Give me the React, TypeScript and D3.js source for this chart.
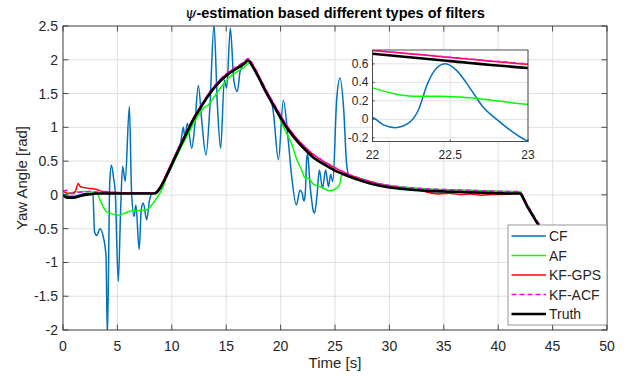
import React from "react";
import * as d3 from "d3";

type P = [number, number];

const X_TICKS = [0, 5, 10, 15, 20, 25, 30, 35, 40, 45, 50];
const Y_TICKS = [-2, -1.5, -1, -0.5, 0, 0.5, 1, 1.5, 2, 2.5];
const INSET_X_TICKS = [22, 22.5, 23];
const INSET_Y_TICKS = [-0.2, 0, 0.2, 0.4, 0.6];
const SERIES_NAMES = ["CF", "AF", "KF-GPS", "KF-ACF", "Truth"];

const CF: P[] = [
  [0, 0], [0.5, -0.02], [1, -0.02], [1.5, 0], [2, 0.02], [2.5, 0.02], [2.75, 0],
  [2.9, -0.55], [3.1, -0.6], [3.4, -0.5], [3.7, -0.62], [3.95, -0.9], [4.08, -2.1],
  [4.3, 0.2], [4.45, 0.44], [4.65, 0.25], [4.8, 0.05], [5.08, -1.28], [5.3, -0.2],
  [5.48, 0.42], [5.72, 0.2], [6.1, 1.31], [6.3, 0.05], [6.53, -0.32], [6.7, -0.15],
  [7.0, -0.81], [7.2, -0.2], [7.38, -0.12], [7.69, -0.37], [7.95, -0.08], [8.2, 0.02],
  [8.5, 0.03], [9, 0.12], [9.5, 0.3], [10, 0.45], [10.5, 0.63], [10.8, 0.75],
  [11.06, 1.0], [11.2, 0.85], [11.43, 1.06], [11.83, 0.69], [12.1, 1.0], [12.44, 1.62],
  [12.75, 1.1], [13.14, 0.59], [13.5, 1.3], [13.88, 2.52], [14.18, 1.36], [14.49, 0.69],
  [14.83, 1.7], [15.04, 1.58], [15.38, 2.47], [15.7, 1.7], [16.02, 1.53], [16.3, 1.85],
  [16.7, 1.95], [17, 1.99], [17.5, 1.88], [18, 1.73], [18.5, 1.57], [19.0, 1.42],
  [19.2, 1.36], [19.35, 1.2], [19.8, 0.52], [20.25, 1.4], [20.7, 0.81], [21.0, 0.3],
  [21.45, -0.15], [21.78, 0.07], [22.0, 0.02], [22.07, -0.06], [22.145, -0.09],
  [22.24, -0.03], [22.3, 0.12], [22.35, 0.37], [22.41, 0.55], [22.47, 0.6],
  [22.54, 0.53], [22.63, 0.33], [22.71, 0.135], [22.82, -0.03], [22.9, -0.135],
  [23.0, -0.235], [23.12, -0.27], [23.35, 0.0], [23.56, 0.37], [23.85, 0.1],
  [24.14, 0.37], [24.4, 0.12], [24.6, 0.3], [24.8, 0.2], [25.15, 1.4], [25.46, 1.73],
  [25.8, 1.26], [26.07, 0.45], [26.3, 0.28], [27, 0.235], [28, 0.185], [29, 0.145],
  [30, 0.115], [31, 0.095], [32, 0.08], [33, 0.07], [34, 0.06], [35, 0.055],
  [36, 0.05], [37, 0.045], [38, 0.04], [39, 0.035], [40, 0.03], [41, 0.025],
  [42, 0.025], [42.3, -0.04], [42.6, -0.14], [43, -0.25], [43.4, -0.36], [44, -0.51],
  [45, -0.75], [46, -0.99], [47, -1.23], [48, -1.46], [49, -1.69], [50, -1.92],
];

const AF: P[] = [
  [0, 0], [0.5, 0.02], [1, 0.04], [2, 0.05], [2.8, 0.04], [3.2, 0.0], [3.55, -0.13],
  [4.0, -0.25], [4.3, -0.27], [5.1, -0.3], [5.7, -0.27], [6.2, -0.24], [7.1, -0.23],
  [7.7, -0.22], [8.15, -0.15], [8.6, -0.05], [9.07, 0.07], [9.5, 0.25], [10, 0.42],
  [10.75, 0.67], [11.5, 0.9], [12.6, 1.22], [13.0, 1.3], [13.35, 1.33], [13.8, 1.43],
  [14.7, 1.63], [15.35, 1.75], [16.57, 1.88], [17.1, 1.95], [17.65, 1.85], [18.2, 1.68],
  [18.7, 1.53], [19.2, 1.38], [19.64, 1.24], [20.4, 0.96], [21.0, 0.76], [21.5, 0.52],
  [22, 0.34], [22.13, 0.28], [22.26, 0.25], [22.44, 0.25], [22.67, 0.226], [23, 0.16],
  [23.5, 0.13], [24, 0.09], [24.5, 0.06], [25.15, 0.1], [25.46, 0.17], [25.6, 0.29],
  [25.9, 0.31], [26.5, 0.28], [27, 0.26], [28, 0.21], [29, 0.17], [30, 0.14],
  [31, 0.12], [32, 0.105], [33, 0.095], [34, 0.085], [35, 0.08], [36, 0.075],
  [37, 0.07], [38, 0.065], [39, 0.06], [40, 0.055], [41, 0.05], [42, 0.045],
  [42.3, -0.03], [42.6, -0.13], [43, -0.24], [43.4, -0.35], [44, -0.5], [45, -0.74],
  [46, -0.98], [47, -1.22], [48, -1.45], [49, -1.68], [50, -1.9],
];

const KF_GPS: P[] = [
  [0, 0.05], [0.3, 0.03], [0.8, 0.02], [1.15, 0.06], [1.4, 0.17], [1.6, 0.12],
  [2.2, 0.1], [3.1, 0.08], [3.6, 0.05], [4.5, 0.04], [6, 0.03], [8.4, 0.03],
  [8.8, 0.09], [9.2, 0.2], [9.6, 0.34], [10, 0.48], [10.75, 0.74], [11.5, 0.98],
  [12, 1.14], [12.6, 1.3], [13.5, 1.52], [14.43, 1.7], [15.3, 1.82], [16.27, 1.92],
  [16.7, 1.97], [17, 2.0], [17.5, 1.91], [18, 1.76], [18.5, 1.6], [19, 1.45],
  [19.5, 1.31], [20, 1.17], [20.5, 1.04], [21, 0.93], [21.5, 0.83], [22, 0.745],
  [22.5, 0.67], [23, 0.595], [23.5, 0.54], [24, 0.49], [25, 0.4], [26, 0.32],
  [27, 0.255], [28, 0.205], [29, 0.16], [30, 0.125], [31, 0.1], [32, 0.08],
  [33, 0.06], [33.5, 0.04], [34.5, 0.015], [35.5, 0.025], [36.5, 0.005], [37.5, 0.015],
  [38.5, -0.005], [39.5, 0.005], [40.5, 0.01], [41.5, 0.02], [42, 0.02], [42.3, -0.04],
  [42.6, -0.14], [43, -0.25], [43.4, -0.36], [44, -0.51], [45, -0.75], [46, -0.99],
  [47, -1.23], [48, -1.46], [49, -1.69], [50, -1.91],
];

const KF_ACF: P[] = [
  [0, 0.06], [0.3, 0.07], [0.6, 0.03], [1, 0.02], [1.5, 0.04], [2.5, 0.05],
  [3.5, 0.04], [5, 0.03], [8.4, 0.03], [8.8, 0.09], [9.2, 0.2], [9.6, 0.34],
  [10, 0.48], [10.75, 0.74], [11.5, 0.98], [12, 1.14], [12.6, 1.3], [13.5, 1.53],
  [14.43, 1.71], [15.3, 1.83], [16.27, 1.93], [16.7, 1.98], [17, 2.02], [17.5, 1.92],
  [18, 1.77], [18.5, 1.61], [19, 1.46], [19.5, 1.32], [20, 1.18], [20.5, 1.05],
  [21, 0.935], [21.5, 0.835], [22, 0.748], [22.5, 0.672], [23, 0.6], [23.5, 0.545],
  [24, 0.495], [25, 0.405], [26, 0.325], [27, 0.262], [28, 0.21], [29, 0.17],
  [30, 0.14], [31, 0.12], [32, 0.105], [33, 0.095], [34, 0.085], [35, 0.08],
  [36, 0.075], [37, 0.07], [38, 0.065], [39, 0.06], [40, 0.055], [41, 0.05],
  [42, 0.048], [42.3, -0.02], [42.6, -0.12], [43, -0.23], [43.4, -0.34], [44, -0.49],
  [45, -0.73], [46, -0.97], [47, -1.21], [48, -1.44], [49, -1.67], [50, -1.9],
];

const TRUTH: P[] = [
  [0, 0], [0.4, -0.04], [1, -0.04], [1.5, -0.02], [2, 0], [2.5, 0.01], [3, 0.02],
  [8.4, 0.02], [8.8, 0.07], [9.2, 0.18], [9.6, 0.31], [10, 0.45], [10.75, 0.71],
  [11.5, 0.96], [12, 1.12], [12.6, 1.28], [13.5, 1.5], [14.43, 1.68], [15.3, 1.8],
  [16.27, 1.9], [16.7, 1.95], [17, 1.99], [17.5, 1.88], [18, 1.73], [18.5, 1.57],
  [19, 1.42], [19.5, 1.28], [20, 1.14], [20.5, 1.01], [21, 0.9], [21.5, 0.8],
  [22, 0.71], [22.5, 0.63], [23, 0.555], [23.5, 0.5], [24, 0.45], [25, 0.36],
  [26, 0.29], [27, 0.23], [28, 0.18], [29, 0.14], [30, 0.11], [31, 0.09],
  [32, 0.075], [33, 0.065], [34, 0.055], [35, 0.05], [36, 0.045], [37, 0.04],
  [38, 0.035], [39, 0.03], [40, 0.025], [41, 0.02], [42, 0.02], [42.3, -0.05],
  [42.6, -0.15], [43, -0.26], [43.4, -0.37], [44, -0.52], [45, -0.76], [46, -1.0],
  [47, -1.24], [48, -1.47], [49, -1.7], [50, -1.93],
];

const SERIES: P[][] = [CF, AF, KF_GPS, KF_ACF, TRUTH];

const STYLES = [
  { color: "#0072BD", width: 1.5, dash: "" },
  { color: "#00FF00", width: 1.5, dash: "" },
  { color: "#FF0000", width: 1.5, dash: "" },
  { color: "#FF00FF", width: 1.5, dash: "5,3" },
  { color: "#000000", width: 2.6, dash: "" },
];

const FONT = "'Liberation Sans', Arial, Helvetica, sans-serif";
const TXT = "#262626";
const AXC = "#3a3a3a";
const GRID = "#e0e0e0";

export default function App() {
  const W = 632, H = 376;
  const m = { l: 63, r: 607, t: 26, b: 330 };
  const x = d3.scaleLinear().domain([0, 50]).range([m.l, m.r]);
  const y = d3.scaleLinear().domain([-2, 2.5]).range([m.b, m.t]);
  const ins = { l: 372.5, r: 528, t: 50, b: 141.5 };
  const xi = d3.scaleLinear().domain([22, 23]).range([ins.l, ins.r]);
  const yi = d3.scaleLinear().domain([-0.24, 0.75]).range([ins.b, ins.t]);

  const mainLine = d3.line<P>().x((d) => x(d[0])).y((d) => y(d[1])).curve(d3.curveMonotoneX);
  const insetLine = d3.line<P>().x((d) => xi(d[0])).y((d) => yi(d[1])).curve(d3.curveMonotoneX);

  const tl = 5.5;
  const leg = { x: 508, y: 225, w: 99, h: 100 };
  const legRowY = [236, 255.5, 275, 294.5, 314];

  return (
    <svg width={W} height={H} style={{ position: "absolute", left: 0, top: 0, display: "block" }} fontFamily={FONT}>
      <rect x={0} y={0} width={W} height={H} fill="#ffffff" />
      <defs>
        <clipPath id="mainClip">
          <rect x={m.l} y={m.t} width={m.r - m.l} height={m.b - m.t} />
        </clipPath>
        <clipPath id="insClip">
          <rect x={ins.l} y={ins.t} width={ins.r - ins.l} height={ins.b - ins.t} />
        </clipPath>
      </defs>

      {/* main grid */}
      <g>
        {X_TICKS.map((t) => (
          <line key={"gx" + t} x1={x(t)} x2={x(t)} y1={m.t} y2={m.b} stroke={GRID} strokeWidth={1} />
        ))}
        {Y_TICKS.map((t) => (
          <line key={"gy" + t} x1={m.l} x2={m.r} y1={y(t)} y2={y(t)} stroke={GRID} strokeWidth={1} />
        ))}
      </g>

      {/* main lines */}
      <g clipPath="url(#mainClip)">
        {SERIES.map((s, i) => (
          <path key={"s" + i} d={mainLine(s) || ""} fill="none" stroke={STYLES[i].color}
            strokeWidth={STYLES[i].width} strokeDasharray={STYLES[i].dash || undefined}
            strokeLinejoin="round" />
        ))}
      </g>

      {/* main axes box and ticks */}
      <rect x={m.l} y={m.t} width={m.r - m.l} height={m.b - m.t} fill="none" stroke={AXC} strokeWidth={0.9} />
      {X_TICKS.map((t) => (
        <g key={"xt" + t}>
          <line x1={x(t)} x2={x(t)} y1={m.b} y2={m.b - tl} stroke={AXC} strokeWidth={0.9} />
          <line x1={x(t)} x2={x(t)} y1={m.t} y2={m.t + tl} stroke={AXC} strokeWidth={0.9} />
          <text x={x(t)} y={m.b + 16} textAnchor="middle" dominantBaseline="central" fontSize={14} fill={TXT}>{t}</text>
        </g>
      ))}
      {Y_TICKS.map((t) => (
        <g key={"yt" + t}>
          <line x1={m.l} x2={m.l + tl} y1={y(t)} y2={y(t)} stroke={AXC} strokeWidth={0.9} />
          <line x1={m.r} x2={m.r - tl} y1={y(t)} y2={y(t)} stroke={AXC} strokeWidth={0.9} />
          <text x={m.l - 5} y={y(t)} textAnchor="end" dominantBaseline="central" fontSize={14} fill={TXT}>{t}</text>
        </g>
      ))}

      {/* labels */}
      <text x={(m.l + m.r) / 2} y={362} textAnchor="middle" dominantBaseline="central" fontSize={15} fill={TXT}>Time [s]</text>
      <text transform={`translate(21,${(m.t + m.b) / 2}) rotate(-90)`} textAnchor="middle" dominantBaseline="central" fontSize={15} fill={TXT}>Yaw Angle [rad]</text>
      <text x={(m.l + m.r) / 2} y={13} textAnchor="middle" dominantBaseline="central" fontSize={14.5} fontWeight="bold" fill="#000">
        <tspan fontStyle="italic" fontWeight="normal" fontFamily="'DejaVu Serif', serif">ψ</tspan>-estimation based different types of filters
      </text>

      {/* inset */}
      <rect x={ins.l} y={ins.t} width={ins.r - ins.l} height={ins.b - ins.t} fill="#ffffff" />
      <g>
        {INSET_X_TICKS.map((t) => (
          <line key={"igx" + t} x1={xi(t)} x2={xi(t)} y1={ins.t} y2={ins.b} stroke={GRID} strokeWidth={1} />
        ))}
        {INSET_Y_TICKS.map((t) => (
          <line key={"igy" + t} x1={ins.l} x2={ins.r} y1={yi(t)} y2={yi(t)} stroke={GRID} strokeWidth={1} />
        ))}
      </g>
      <g clipPath="url(#insClip)">
        {SERIES.map((s, i) => (
          <path key={"is" + i} d={insetLine(s) || ""} fill="none" stroke={STYLES[i].color}
            strokeWidth={STYLES[i].width} strokeDasharray={STYLES[i].dash || undefined}
            strokeLinejoin="round" />
        ))}
      </g>
      <rect x={ins.l} y={ins.t} width={ins.r - ins.l} height={ins.b - ins.t} fill="none" stroke={AXC} strokeWidth={0.9} />
      {INSET_X_TICKS.map((t) => (
        <g key={"ixt" + t}>
          <line x1={xi(t)} x2={xi(t)} y1={ins.b} y2={ins.b - 2} stroke={AXC} strokeWidth={0.9} />
          <text x={xi(t)} y={ins.b + 13.5} textAnchor="middle" dominantBaseline="central" fontSize={12} fill={TXT}>{t}</text>
        </g>
      ))}
      {INSET_Y_TICKS.map((t) => (
        <g key={"iyt" + t}>
          <line x1={ins.l} x2={ins.l + 2} y1={yi(t)} y2={yi(t)} stroke={AXC} strokeWidth={0.9} />
          <text x={ins.l - 4} y={yi(t)} textAnchor="end" dominantBaseline="central" fontSize={12} fill={TXT}>{t}</text>
        </g>
      ))}

      {/* legend */}
      <rect x={leg.x} y={leg.y} width={leg.w} height={leg.h} fill="#ffffff" stroke="#8c8c8c" strokeWidth={0.9} />
      {SERIES_NAMES.map((n, i) => (
        <g key={"lg" + n}>
          <line x1={511.5} x2={546} y1={legRowY[i]} y2={legRowY[i]} stroke={STYLES[i].color}
            strokeWidth={STYLES[i].width} strokeDasharray={STYLES[i].dash || undefined} />
          <text x={549} y={legRowY[i]} dominantBaseline="central" fontSize={14} fill={TXT}>{n}</text>
        </g>
      ))}
    </svg>
  );
}
